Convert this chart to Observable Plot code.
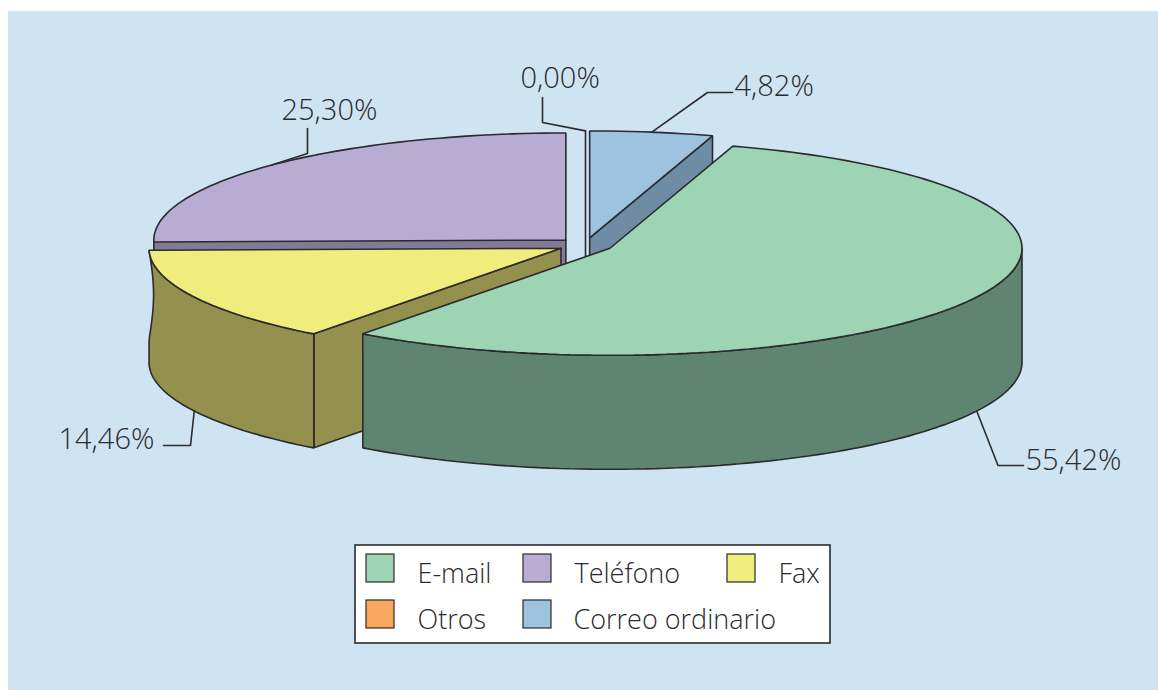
<!DOCTYPE html>
<html lang="es">
<head>
<meta charset="utf-8">
<style>html,body{margin:0;padding:0;background:#fff}svg{display:block}</style>
<script src="https://cdn.jsdelivr.net/npm/d3@7"></script>
<script src="https://cdn.jsdelivr.net/npm/@observablehq/plot@0.6"></script>
</head>
<body>
<div id="chart"></div>
<script>
// Data
const categories = ["E-mail", "Teléfono", "Fax", "Otros", "Correo ordinario"];
const shares = [55.42, 25.30, 14.46, 0.00, 4.82];
const shareLabels = ["55,42%", "25,30%", "14,46%", "0,00%", "4,82%"];
// Clockwise order of the slices from 12 o'clock (indices into categories)
const pieOrder = [4, 0, 2, 1, 3];

// Styles
const topColors = ["#9dd4b4", "#b9acd3", "#f0ed7d", "#f9a75d", "#9dc3de"];
const wallColors = ["#5f8572", "#837a98", "#94914e", "#b8794a", "#6e8da4"];
const ink = "#2b2a2e", textInk = "#2b2a2e", panel = "#cfe4f3";
const fontFamily = "'Open Sans', sans-serif";

// Pie projection
const W = 1158, H = 690;
const pie = {cx: 585, cy: 244.5, rx: 412, ry: 107, depth: 114, explode: 0.0668};
const rad = d => d * Math.PI / 180;

const slices = {};
let cum = 0;
for (const i of pieOrder) {
  const a0 = cum, a1 = cum + shares[i] * 3.6;
  const mid = (a0 + a1) / 2;
  slices[i] = {
    a0, a1, mid,
    ox: pie.cx + pie.explode * pie.rx * Math.sin(rad(mid)),
    oy: pie.cy - pie.explode * pie.ry * Math.cos(rad(mid))
  };
  cum = a1;
}
const rim = (i, a, dz = 0) => {
  const s = slices[i];
  return {x: s.ox + pie.rx * Math.sin(rad(a)), y: s.oy - pie.ry * Math.cos(rad(a)) + dz};
};
const apex = (i, dz = 0) => ({x: slices[i].ox, y: slices[i].oy + dz});
const arc = (i, a0, a1, dz = 0) => {
  const n = Math.max(2, Math.ceil(Math.abs(a1 - a0) / 1.5));
  return d3.range(n + 1).map(k => rim(i, a0 + (a1 - a0) * k / n, dz));
};
const closed = pts => [...pts, pts[0]];
const topFace = i => closed([apex(i), ...arc(i, slices[i].a0, slices[i].a1)]);
const cutFace = (i, a) => closed([apex(i), rim(i, a), rim(i, a, pie.depth), apex(i, pie.depth)]);
const outerWall = (i, a0, a1, edge = []) =>
  closed([...arc(i, a0, a1), ...edge, ...arc(i, a1, a0, pie.depth)]);

// The Fax wall's far edge bows inwards in the original drawing
const faxEdge = () => {
  const a = rim(2, slices[2].a1), b = rim(2, slices[2].a1, pie.depth);
  return d3.range(1, 20).map(k => {
    const t = k / 20;
    return {x: a.x + 4.5 * Math.sin(Math.PI * Math.min(t / 0.78, 1)), y: a.y + (b.y - a.y) * t};
  });
};

const [EMAIL, TEL, FAX, OTROS, CORREO] = [0, 1, 2, 3, 4];
const face = (pts, fill) => Plot.line(pts, {x: "x", y: "y", fill, stroke: ink, strokeWidth: 1.6, strokeLinejoin: "miter", curve: "linear"});

const faces = [
  // Teléfono: the wall behind the Fax slice
  face(closed([rim(TEL, 270), apex(TEL), apex(TEL, pie.depth), rim(TEL, 270, pie.depth)]), wallColors[TEL]),
  // Otros: a zero-width slice, seen edge-on
  face(cutFace(OTROS, slices[OTROS].a0), wallColors[OTROS]),
  // Correo
  face(cutFace(CORREO, slices[CORREO].a1), wallColors[CORREO]),
  face(topFace(CORREO), topColors[CORREO]),
  // Teléfono top
  face(topFace(TEL), topColors[TEL]),
  // Fax
  face(cutFace(FAX, slices[FAX].a0), wallColors[FAX]),
  face(outerWall(FAX, slices[FAX].a0, slices[FAX].a1, faxEdge()), wallColors[FAX]),
  face(topFace(FAX), topColors[FAX]),
  // E-mail
  face(outerWall(EMAIL, 90, slices[EMAIL].a1), wallColors[EMAIL]),
  face(topFace(EMAIL), topColors[EMAIL])
];

// Leader lines start on the slice, then follow these elbows to the label
const leaderElbows = [
  [{x: 997.5, y: 465}, {x: 1023, y: 465}],
  [{x: 307, y: 153}, {x: 307, y: 128}],
  [{x: 190, y: 445}, {x: 163, y: 445}],
  [{x: 542, y: 122}, {x: 542, y: 97}],
  [{x: 707, y: 92}, {x: 732, y: 92}]
];
const leaderOnWall = [true, false, true, false, false];
const leaders = categories.map((_, i) => [
  rim(i, slices[i].mid, leaderOnWall[i] ? pie.depth : 0),
  ...leaderElbows[i]
]);
const labelX = [1025, 281, 58, 520, 734];
const labelY = [469, 119, 448, 87, 95];
const labels = shareLabels.map((t, i) => ({t, x: labelX[i], y: labelY[i]}));

// Legend
const legendBox = {x1: 355, x2: 830, y1: 545, y2: 643};
const swatchX = [366, 523, 727, 366, 523];
const swatchY = [554, 554, 554, 600, 600];
const legendTextX = [417, 574, 778, 417, 573];
const swatchSize = 28;
const legend = categories.map((name, i) => ({
  name, fill: topColors[i],
  x1: swatchX[i], x2: swatchX[i] + swatchSize,
  y1: swatchY[i], y2: swatchY[i] + swatchSize,
  tx: legendTextX[i], ty: swatchY[i] + swatchSize
}));

const chart = Plot.plot({
  width: W, height: H,
  margin: 0,
  x: {domain: [0, W], range: [0, W], axis: null},
  y: {domain: [0, H], range: [0, H], axis: null},
  style: {background: "#fff"},
  marks: [
    Plot.rect([{x1: 8, x2: W, y1: 11, y2: H}], {x1: "x1", x2: "x2", y1: "y1", y2: "y2", fill: panel}),
    ...faces,
    ...leaders.map(l => Plot.line(l, {x: "x", y: "y", stroke: ink, strokeWidth: 1.6, curve: "linear"})),
    Plot.text(labels, {x: "x", y: "y", text: "t", textAnchor: "start", lineAnchor: "bottom", fontSize: 29, fontWeight: 300, fontFamily, fill: textInk}),
    Plot.rect([legendBox], {x1: "x1", x2: "x2", y1: "y1", y2: "y2", fill: "#fff", stroke: ink, strokeWidth: 1.6}),
    Plot.rect(legend, {x1: "x1", x2: "x2", y1: "y1", y2: "y2", fill: "fill", stroke: ink, strokeWidth: 1.2}),
    Plot.text(legend, {x: "tx", y: "ty", text: "name", textAnchor: "start", lineAnchor: "bottom", fontSize: 27, fontWeight: 300, fontFamily, fill: textInk})
  ]
});
document.getElementById("chart").append(chart);
</script>
</body>
</html>
